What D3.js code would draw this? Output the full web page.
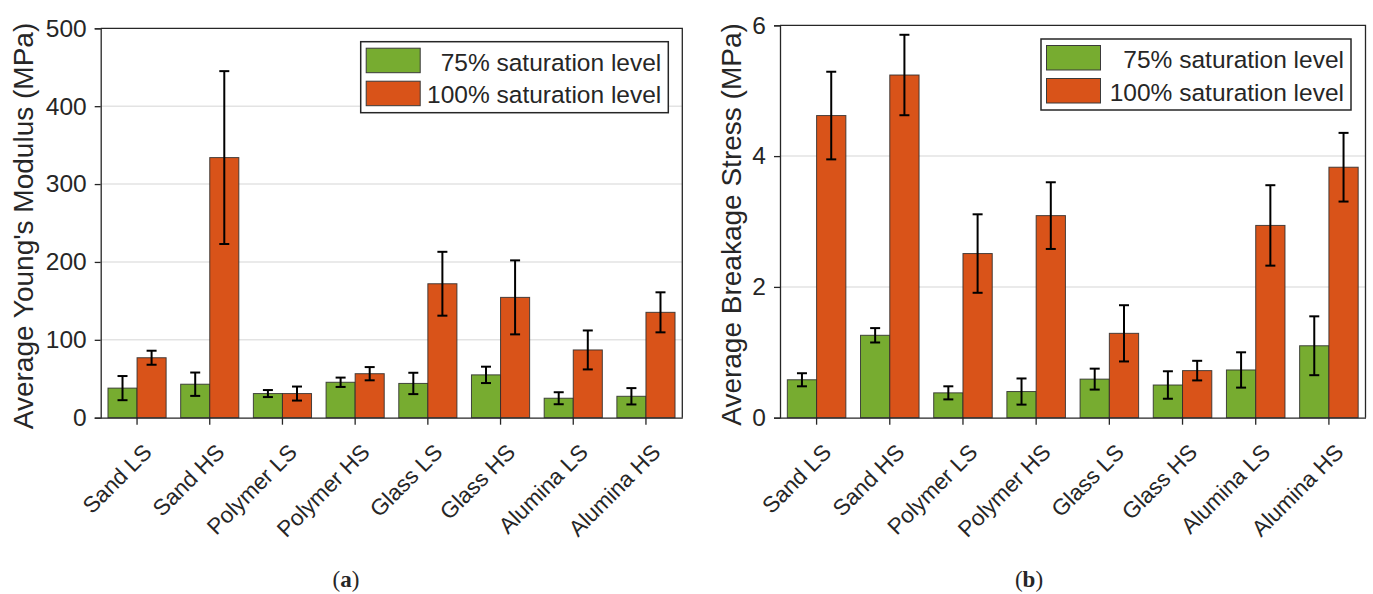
<!DOCTYPE html>
<html>
<head>
<meta charset="utf-8">
<script src="https://cdn.jsdelivr.net/npm/d3@7"></script>
<style>
  html, body { margin: 0; padding: 0; background: #fff; }
  svg { display: block; }
  text { font-family: "Liberation Sans", Arial, Helvetica, sans-serif; fill: #262626; }
</style>
</head>
<body>
<svg id="fig" width="1373" height="594"></svg>
<script>
// Sample groups (x axis)
const categories = ["Sand LS", "Sand HS", "Polymer LS", "Polymer HS", "Glass LS", "Glass HS", "Alumina LS", "Alumina HS"];
const seriesNames = ["75% saturation level", "100% saturation level"];
const seriesColors = ["#77AC30", "#D95319"];

// (a) Average Young's modulus, MPa
const modulus75 = [38, 43, 31, 45.5, 44, 55, 25, 27.5];
const modulus75Err = [15.5, 15, 4.5, 6, 13.7, 10.5, 7.7, 10.5];
const modulus100 = [77, 334, 31, 56.5, 172, 154.5, 87, 135.3];
const modulus100Err = [9, 111, 9, 8.5, 41, 47.5, 25, 25.7];
const modulusTicks = [0, 100, 200, 300, 400, 500];

// (b) Average breakage stress, MPa
const stress75 = [0.58, 1.26, 0.38, 0.40, 0.59, 0.50, 0.73, 1.10];
const stress75Err = [0.10, 0.11, 0.10, 0.20, 0.16, 0.21, 0.27, 0.45];
const stress100 = [4.62, 5.24, 2.51, 3.09, 1.29, 0.72, 2.94, 3.83];
const stress100Err = [0.67, 0.615, 0.60, 0.51, 0.43, 0.15, 0.615, 0.525];
const stressTicks = [0, 2, 4, 6];

const svg = d3.select("#fig");
const axisColor = "#262626";

function drawPanel(cfg) {
  const g = svg.append("g");
  const x = d3.scaleBand().domain(categories).range([cfg.left, cfg.right]).paddingInner(0).paddingOuter(0);
  const bw = x.bandwidth();
  const xs = d3.scaleBand().domain([0, 1]).range([bw * 0.1, bw * 0.9]).padding(0);
  const y = d3.scaleLinear().domain(cfg.domain).range([cfg.bottom, cfg.top]);

  // horizontal grid
  g.append("g").selectAll("line")
    .data(cfg.ticks.filter(t => t > cfg.domain[0] && t < cfg.domain[1]))
    .join("line")
    .attr("x1", cfg.left).attr("x2", cfg.right)
    .attr("y1", d => y(d)).attr("y2", d => y(d))
    .attr("stroke", "#e3e3e3").attr("stroke-width", 1.5);

  // bars
  const rows = categories.map((c, i) => ({
    c,
    vals: [
      { s: 0, v: cfg.s75[i], e: cfg.e75[i] },
      { s: 1, v: cfg.s100[i], e: cfg.e100[i] }
    ]
  }));
  const groups = g.append("g").selectAll("g")
    .data(rows).join("g")
    .attr("transform", d => `translate(${x(d.c)},0)`);
  groups.selectAll("rect")
    .data(d => d.vals).join("rect")
    .attr("x", d => xs(d.s))
    .attr("width", xs.bandwidth())
    .attr("y", d => y(d.v))
    .attr("height", d => y(0) - y(d.v))
    .attr("fill", d => seriesColors[d.s])
    .attr("stroke", "#2b2b2b")
    .attr("stroke-opacity", 0.85)
    .attr("stroke-width", 1);

  // error bars
  const cap = 5;
  const eb = groups.selectAll("g.err")
    .data(d => d.vals).join("g").attr("class", "err")
    .attr("stroke", "#000").attr("stroke-width", 2).attr("fill", "none");
  eb.append("line")
    .attr("x1", d => xs(d.s) + xs.bandwidth() / 2).attr("x2", d => xs(d.s) + xs.bandwidth() / 2)
    .attr("y1", d => y(d.v + d.e)).attr("y2", d => y(d.v - d.e));
  eb.append("line")
    .attr("x1", d => xs(d.s) + xs.bandwidth() / 2 - cap).attr("x2", d => xs(d.s) + xs.bandwidth() / 2 + cap)
    .attr("y1", d => y(d.v + d.e)).attr("y2", d => y(d.v + d.e));
  eb.append("line")
    .attr("x1", d => xs(d.s) + xs.bandwidth() / 2 - cap).attr("x2", d => xs(d.s) + xs.bandwidth() / 2 + cap)
    .attr("y1", d => y(d.v - d.e)).attr("y2", d => y(d.v - d.e));

  // box (top and right edges)
  g.append("path")
    .attr("d", `M${cfg.left},${cfg.top}H${cfg.right}V${cfg.bottom}`)
    .attr("fill", "none").attr("stroke", axisColor).attr("stroke-width", 1.3);

  // y axis
  const yAxis = g.append("g")
    .attr("transform", `translate(${cfg.left},0)`)
    .call(d3.axisLeft(y).tickValues(cfg.ticks).tickSize(6).tickPadding(8).tickFormat(d3.format("d")));
  yAxis.select(".domain").attr("stroke", axisColor).attr("stroke-width", 1.3);
  yAxis.selectAll(".tick line").attr("stroke", axisColor).attr("stroke-width", 1.3);
  yAxis.selectAll(".tick text")
    .attr("font-size", 24.5).attr("fill", axisColor)
    .style("font-family", '"Liberation Sans", Arial, sans-serif');

  // x axis
  const xAxis = g.append("g")
    .attr("transform", `translate(0,${cfg.bottom})`)
    .call(d3.axisBottom(x).tickSize(7).tickSizeOuter(0).tickFormat(""));
  xAxis.select(".domain").attr("stroke", axisColor).attr("stroke-width", 1.3);
  xAxis.selectAll(".tick line").attr("stroke", axisColor).attr("stroke-width", 1.3);
  xAxis.selectAll(".tick").append("text")
    .attr("text-anchor", "end")
    .attr("transform", "translate(16,36) rotate(-45)")
    .attr("font-size", 22.5)
    .attr("fill", axisColor)
    .style("font-family", '"Liberation Sans", Arial, sans-serif')
    .text(d => d);

  // y axis title
  g.append("text")
    .attr("transform", `translate(${cfg.labelX},${(cfg.top + cfg.bottom) / 2 + 3}) rotate(-90)`)
    .attr("text-anchor", "middle")
    .attr("font-size", 28)
    .text(cfg.yLabel);

  // legend
  const L = cfg.legend;
  const lg = g.append("g");
  lg.append("rect")
    .attr("x", L.x).attr("y", L.y).attr("width", L.w).attr("height", L.h)
    .attr("fill", "#fff").attr("stroke", "#262626").attr("stroke-width", 1.5);
  seriesNames.forEach((name, i) => {
    lg.append("rect")
      .attr("x", L.x + 5.5).attr("y", L.y + 6.5 + i * 33)
      .attr("width", 54).attr("height", 24.5)
      .attr("fill", seriesColors[i]).attr("stroke", "#3a3a3a").attr("stroke-width", 1);
    lg.append("text")
      .attr("x", L.x + L.w - 7).attr("y", L.y + 29 + i * 32.5)
      .attr("text-anchor", "end")
      .attr("font-size", 24.5)
      .text(name);
  });

  // panel caption
  const cap2 = svg.append("text")
    .attr("x", cfg.captionX).attr("y", 587)
    .attr("text-anchor", "middle")
    .attr("font-size", 23)
    .style("font-family", '"Liberation Serif", "DejaVu Serif", serif')
    .attr("fill", "#000");
  cap2.append("tspan").text("(");
  cap2.append("tspan").attr("font-weight", "bold").text(cfg.caption);
  cap2.append("tspan").text(")");
}

drawPanel({
  left: 100.7, right: 682.3, top: 28.3, bottom: 417.7,
  domain: [0, 500], ticks: modulusTicks,
  s75: modulus75, e75: modulus75Err, s100: modulus100, e100: modulus100Err,
  yLabel: "Average Young's Modulus (MPa)", labelX: 33,
  legend: { x: 360.7, y: 41.7, w: 307.6, h: 71 },
  caption: "a", captionX: 346
});

drawPanel({
  left: 780, right: 1365.5, top: 25.3, bottom: 417.7,
  domain: [0, 6], ticks: stressTicks,
  s75: stress75, e75: stress75Err, s100: stress100, e100: stress100Err,
  yLabel: "Average Breakage Stress (MPa)", labelX: 740.5,
  legend: { x: 1041, y: 39, w: 310, h: 71 },
  caption: "b", captionX: 1029
});
</script>
</body>
</html>
